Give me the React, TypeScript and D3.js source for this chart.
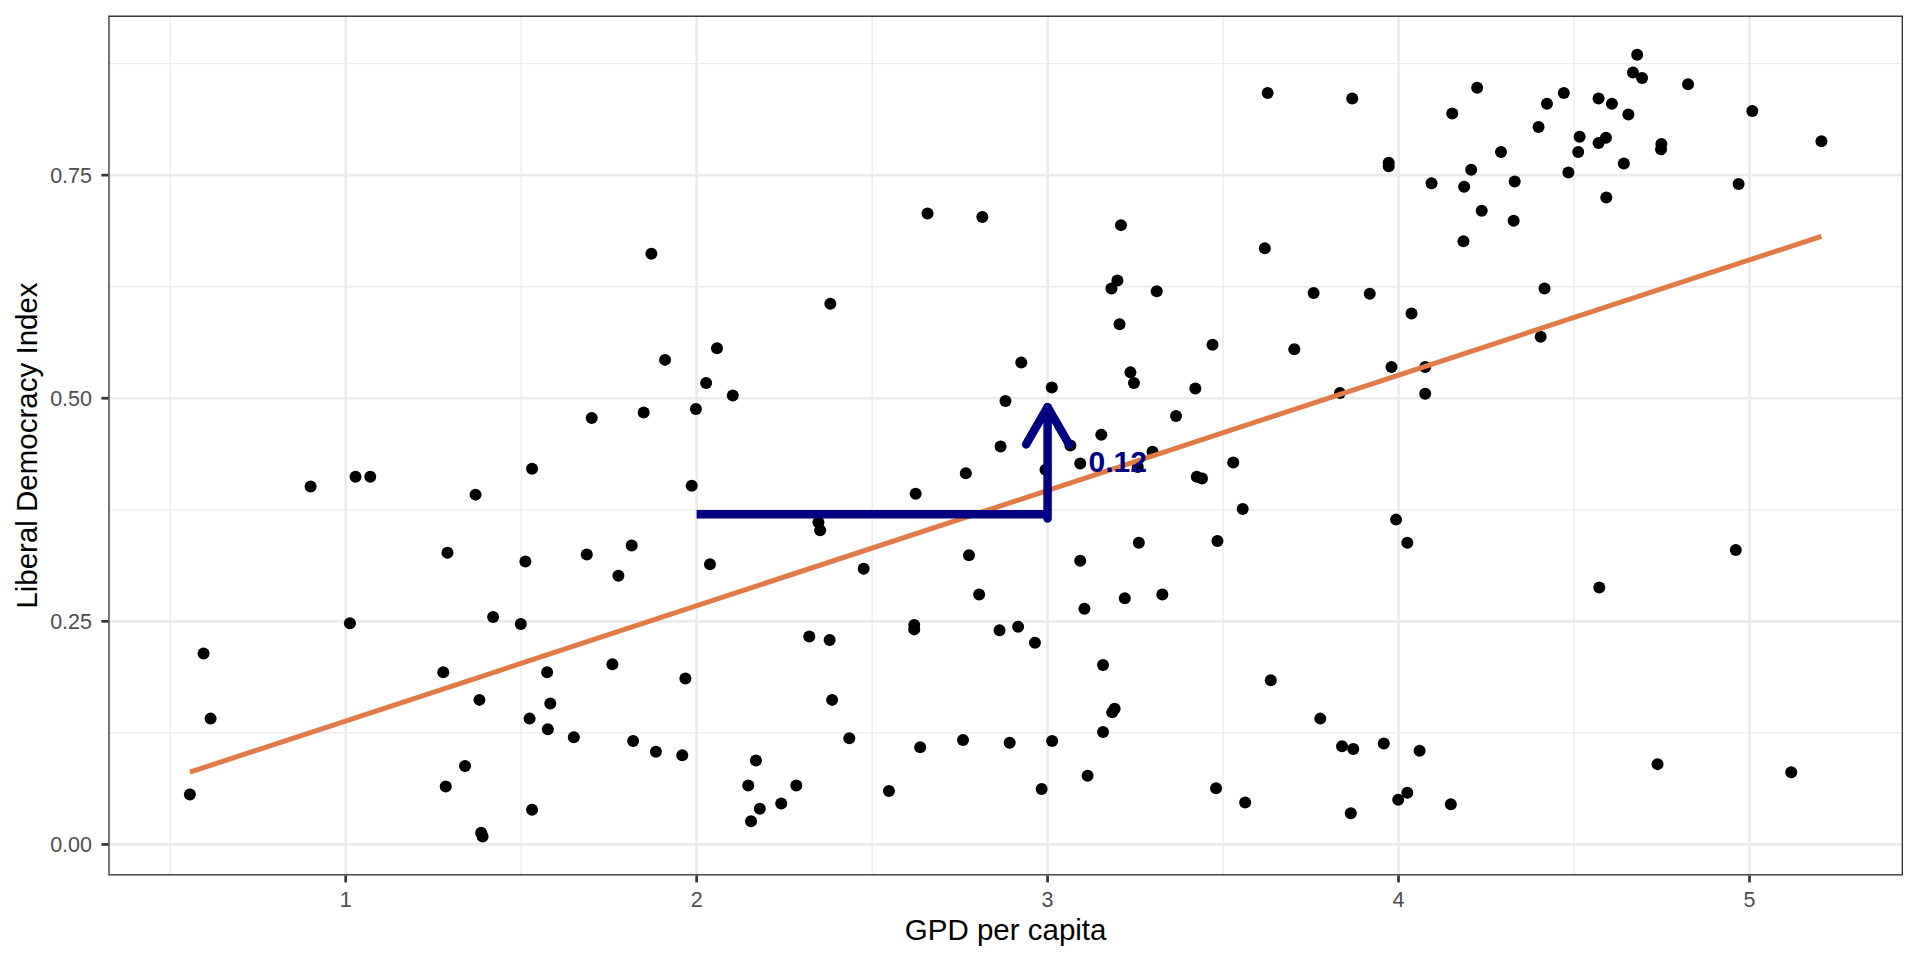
import * as d3 from 'd3';

// GDP per capita (x) and Liberal Democracy Index (y)
const gdp = [
  0.9, 1.028, 1.07, 1.37, 1.29, 1.512, 1.687, 1.815, 1.777, 1.012,
  1.42, 1.499, 0.595, 1.278, 1.574, 1.76, 0.615, 1.381, 1.583, 1.524,
  1.576, 1.65, 1.819, 1.34, 1.285, 0.556, 1.531, 1.386, 1.39, 1.531,
  1.701, 1.871, 2.658, 2.814, 3.209, 3.199, 3.182, 3.311, 2.381, 3.205,
  3.47, 1.91, 2.058, 2.925, 2.027, 2.103, 3.236, 3.246, 3.012, 3.421,
  2.88, 1.849, 1.998, 3.366, 3.153, 2.866, 3.065, 3.093, 3.299, 2.767,
  2.994, 3.425, 3.44, 3.529, 1.986, 2.624, 2.347, 2.352, 2.038, 2.476,
  2.776, 2.805, 3.093, 3.105, 3.26, 3.22, 3.327, 3.484, 3.556, 2.62,
  2.62, 2.863, 2.916, 2.964, 2.321, 2.379, 1.968, 2.386, 3.158, 3.191,
  3.184, 3.158, 1.884, 1.959, 2.435, 2.637, 2.759, 2.892, 3.013, 2.169,
  2.147, 2.284, 2.18, 2.241, 2.155, 2.548, 2.983, 3.114, 3.48, 3.627,
  3.868, 4.224, 4.153, 4.471, 4.423, 4.57, 4.608, 4.68, 4.668, 4.694,
  4.825, 4.655, 5.008, 4.399, 4.516, 4.512, 4.57, 4.591, 4.749, 4.748,
  5.205, 4.292, 3.972, 3.972, 4.207, 4.642, 4.484, 4.094, 4.187, 4.331,
  4.969, 4.592, 4.237, 4.328, 4.185, 3.619, 3.758, 3.918, 4.416, 4.037,
  3.703, 3.98, 4.076, 4.405, 3.833, 4.076, 3.993, 4.025, 4.572, 4.961,
  3.636, 3.777, 3.839, 3.871, 3.958, 4.06, 4.738, 5.119, 3.563, 3.864,
  3.999, 4.025, 4.149, 3.257,
];
const ldi = [
  0.401, 0.412, 0.412, 0.392, 0.327, 0.317, 0.325, 0.335, 0.301, 0.248,
  0.255, 0.247, 0.214, 0.193, 0.193, 0.202, 0.141, 0.162, 0.158, 0.141,
  0.129, 0.12, 0.116, 0.088, 0.065, 0.056, 0.039, 0.013, 0.009, 0.421,
  0.478, 0.662, 0.707, 0.703, 0.694, 0.632, 0.623, 0.62, 0.606, 0.583,
  0.56, 0.543, 0.556, 0.54, 0.517, 0.503, 0.529, 0.517, 0.512, 0.511,
  0.497, 0.484, 0.488, 0.48, 0.459, 0.446, 0.447, 0.427, 0.44, 0.416,
  0.42, 0.412, 0.41, 0.428, 0.402, 0.393, 0.361, 0.352, 0.314, 0.309,
  0.324, 0.28, 0.318, 0.264, 0.338, 0.276, 0.28, 0.34, 0.376, 0.246,
  0.241, 0.24, 0.244, 0.226, 0.233, 0.229, 0.186, 0.162, 0.201, 0.152,
  0.148, 0.126, 0.104, 0.1, 0.119, 0.109, 0.117, 0.114, 0.116, 0.094,
  0.066, 0.066, 0.04, 0.046, 0.026, 0.06, 0.062, 0.077, 0.063, 0.842,
  0.836, 0.848, 0.819, 0.842, 0.83, 0.836, 0.83, 0.885, 0.865, 0.859,
  0.852, 0.818, 0.822, 0.804, 0.793, 0.776, 0.786, 0.792, 0.785, 0.779,
  0.788, 0.776, 0.764, 0.76, 0.756, 0.763, 0.753, 0.741, 0.737, 0.743,
  0.74, 0.725, 0.71, 0.699, 0.676, 0.668, 0.618, 0.617, 0.623, 0.595,
  0.555, 0.535, 0.535, 0.569, 0.506, 0.505, 0.364, 0.338, 0.288, 0.33,
  0.184, 0.141, 0.11, 0.107, 0.113, 0.105, 0.09, 0.081, 0.047, 0.035,
  0.05, 0.058, 0.045, 0.423,
];

// linear fit line ends (as drawn in the reference)
const fitX = [0.556, 5.205];
const fitY = [0.081, 0.6815];

// "one unit more GDP" step annotation
const stepX = [2, 3];
const stepY = [0.37, 0.49];
const stepLabel = '0.12';
const labelPos = [3.2, 0.43];

const xBreaks = [1, 2, 3, 4, 5];
const xMinor = [0.5, 1.5, 2.5, 3.5, 4.5];
const yBreaks = [0, 0.25, 0.5, 0.75];
const yMinor = [0.125, 0.375, 0.625, 0.875];

const W = 1920;
const H = 960;
const panel = { left: 108.3, right: 1903, top: 15.6, bottom: 875.5 };
const FONT = '"Liberation Sans", Arial, Helvetica, sans-serif';

// ggplot-style 5% expansion of the data range
function expand([lo, hi]: [number, number]): [number, number] {
  const pad = (hi - lo) * 0.05;
  return [lo - pad, hi + pad];
}

export default function App() {
  const x = d3
    .scaleLinear()
    .domain(expand(d3.extent(gdp) as [number, number]))
    .range([panel.left, panel.right]);
  const y = d3
    .scaleLinear()
    .domain(expand(d3.extent(ldi) as [number, number]))
    .range([panel.bottom, panel.top]);

  const points = gdp.map((g, i) => ({ g, l: ldi[i] }));
  const line = d3
    .line<number>()
    .x((d) => x(d))
    .y((_, i) => y(fitY[i]));

  const fmtY = d3.format('.2f');

  // arrow head at the top of the vertical step
  const tipX = x(stepX[1]);
  const tipY = y(stepY[1]);
  const armLen = 43;
  const ang = (30 * Math.PI) / 180;
  const arrowPath = `M${tipX - armLen * Math.sin(ang)},${tipY + armLen * Math.cos(ang)}L${tipX},${tipY}L${
    tipX + armLen * Math.sin(ang)
  },${tipY + armLen * Math.cos(ang)}`;

  const pw = panel.right - panel.left;
  const ph = panel.bottom - panel.top;

  return (
    <svg
      width={W}
      height={H}
      style={{ position: 'absolute', left: 0, top: 0, background: '#fff' }}
      fontFamily={FONT}
    >
      <defs>
        <clipPath id="panel-clip">
          <rect x={panel.left} y={panel.top} width={pw} height={ph} />
        </clipPath>
      </defs>

      <g clipPath="url(#panel-clip)">
        {/* minor grid */}
        {xMinor.map((v) => (
          <line key={`xm${v}`} x1={x(v)} x2={x(v)} y1={panel.top} y2={panel.bottom} stroke="#EBEBEB" strokeWidth={1.35} />
        ))}
        {yMinor.map((v) => (
          <line key={`ym${v}`} x1={panel.left} x2={panel.right} y1={y(v)} y2={y(v)} stroke="#EBEBEB" strokeWidth={1.35} />
        ))}
        {/* major grid */}
        {xBreaks.map((v) => (
          <line key={`xM${v}`} x1={x(v)} x2={x(v)} y1={panel.top} y2={panel.bottom} stroke="#EBEBEB" strokeWidth={2.7} />
        ))}
        {yBreaks.map((v) => (
          <line key={`yM${v}`} x1={panel.left} x2={panel.right} y1={y(v)} y2={y(v)} stroke="#EBEBEB" strokeWidth={2.7} />
        ))}

        {/* points */}
        {points.map((p, i) => (
          <circle key={i} cx={x(p.g)} cy={y(p.l)} r={6} fill="#000" />
        ))}

        {/* fitted line */}
        <path d={line(fitX) || ''} fill="none" stroke="#E07B47" strokeWidth={5} />

        {/* step annotation */}
        <line
          x1={x(stepX[0])}
          x2={x(stepX[1])}
          y1={y(stepY[0])}
          y2={y(stepY[0])}
          stroke="#000080"
          strokeWidth={8.5}
        />
        <line
          x1={x(stepX[1])}
          x2={x(stepX[1])}
          y1={y(stepY[0]) + 4.25}
          y2={y(stepY[1])}
          stroke="#000080"
          strokeWidth={8.5}
          strokeLinecap="round"
        />
        <path d={arrowPath} fill="none" stroke="#000080" strokeWidth={8.5} strokeLinejoin="round" strokeLinecap="round" />
        <text
          x={x(labelPos[0])}
          y={y(labelPos[1])}
          dy="0.36em"
          textAnchor="middle"
          fontSize={30}
          fontWeight="bold"
          fill="#000080"
        >
          {stepLabel}
        </text>

        {/* panel border */}
        <rect x={panel.left} y={panel.top} width={pw} height={ph} fill="none" stroke="#333333" strokeWidth={2.7} />
      </g>

      {/* axes ticks */}
      {xBreaks.map((v) => (
        <g key={`xt${v}`}>
          <line x1={x(v)} x2={x(v)} y1={panel.bottom} y2={panel.bottom + 6.9} stroke="#333333" strokeWidth={2.7} />
          <text x={x(v)} y={906.5} textAnchor="middle" fontSize={21.5} fill="#4D4D4D">
            {v}
          </text>
        </g>
      ))}
      {yBreaks.map((v) => (
        <g key={`yt${v}`}>
          <line x1={panel.left - 6.9} x2={panel.left} y1={y(v)} y2={y(v)} stroke="#333333" strokeWidth={2.7} />
          <text x={92} y={y(v)} dy="0.36em" textAnchor="end" fontSize={21.5} fill="#4D4D4D">
            {fmtY(v)}
          </text>
        </g>
      ))}

      {/* axis titles */}
      <text x={(panel.left + panel.right) / 2} y={940} textAnchor="middle" fontSize={29.5} fill="#000">
        GPD per capita
      </text>
      <text
        transform={`translate(37,${(panel.top + panel.bottom) / 2}) rotate(-90)`}
        textAnchor="middle"
        fontSize={29.5}
        fill="#000"
      >
        Liberal Democracy Index
      </text>
    </svg>
  );
}
